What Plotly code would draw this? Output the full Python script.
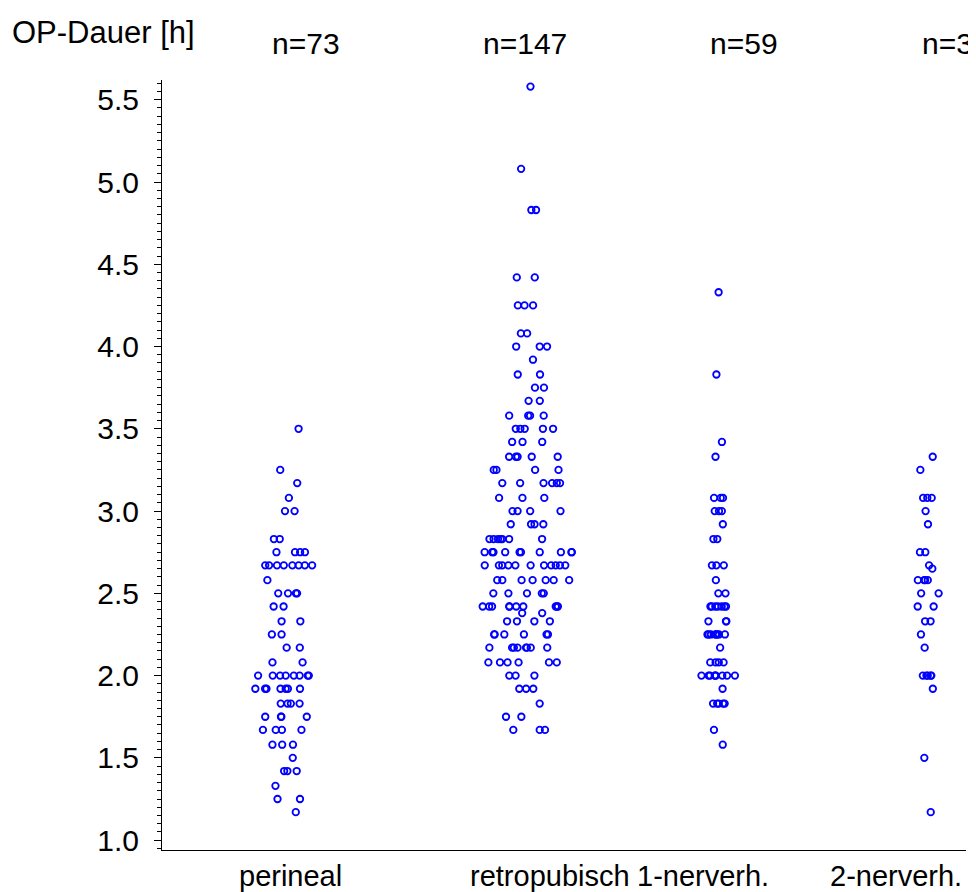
import plotly.graph_objects as go

# ---------------- data (OP-Dauer in hours) ----------------
categories = ["perineal", "retropubisch", "1-nerverh.", "2-nerverh."]

perineal = ([3.5, 3.25, 3.17, 3.08] + [3.0]*2 + [2.83]*2 + [2.75]*4 + [2.67]*8 + [2.58]
            + [2.5]*4 + [2.42]*2 + [2.33]*2 + [2.25]*2 + [2.17]*2 + [2.08]*2 + [2.0]*8
            + [1.92]*7 + [1.83]*4 + [1.75]*4 + [1.67]*4 + [1.58]*3 + [1.5] + [1.42]*3
            + [1.33] + [1.25]*2 + [1.17])

retropubisch = ([5.58, 5.08] + [4.83]*2 + [4.42]*2 + [4.25]*3 + [4.08]*2 + [4.0]*3 + [3.92]
                + [3.83]*2 + [3.75]*2 + [3.67]*2 + [3.58]*4 + [3.5]*5 + [3.42]*3 + [3.33]*5
                + [3.25]*4 + [3.17]*6 + [3.08]*3 + [3.0]*4 + [2.92]*4 + [2.83]*7 + [2.75]*10
                + [2.67]*11 + [2.58]*7 + [2.5]*5 + [2.42]*10 + [2.38]*2 + [2.33]*4 + [2.25]*6
                + [2.17]*8 + [2.08]*6 + [2.0]*3 + [1.92]*3 + [1.83] + [1.75]*2 + [1.67]*3)

nerverh_1 = ([4.33, 3.83, 3.42, 3.33] + [3.08]*3 + [3.0]*3 + [2.92] + [2.83]*2 + [2.67]*3
             + [2.58] + [2.5]*2 + [2.42]*7 + [2.33]*3 + [2.25]*8 + [2.17] + [2.08]*4
             + [2.0]*9 + [1.92] + [1.83]*5 + [1.67] + [1.58])

nerverh_2 = ([3.33, 3.25] + [3.08]*3 + [3.0, 2.92] + [2.75]*2 + [2.65, 2.67] + [2.58]*4
             + [2.5]*2 + [2.42]*2 + [2.33]*2 + [2.25, 2.17] + [2.0]*5 + [1.92, 1.5, 1.17])

series = [perineal, retropubisch, nerverh_1, nerverh_2]

y_ticks = [1.0, 1.5, 2.0, 2.5, 3.0, 3.5, 4.0, 4.5, 5.0, 5.5]

# ---------------- layout helpers ----------------
# (the page body adds an 8 px margin, so everything is laid out 8 px up/left)
W, H = 976, 892
ML, MR, MT, MB = 154, 18, 72, 50
group_pos = [280, 519, 711, 920]      # x centre of each strip (x axis in px units)
group_width = [70, 90, 36, 24]        # jitter spread
label_pos = [282, 542, 695, 888]
n_pos = [298, 517, 736, 912]

FONT = "Liberation Sans, Arial, sans-serif"
BLUE = "#0000ff"

fig = go.Figure()
for vals, pos, wd in zip(series, group_pos, group_width):
    fig.add_trace(go.Box(
        y=vals, x0=pos, width=wd,
        boxpoints="all", jitter=1, pointpos=0,
        fillcolor="rgba(0,0,0,0)", line=dict(width=0, color="rgba(0,0,0,0)"),
        whiskerwidth=0,
        marker=dict(symbol="circle-open", size=6.5, color=BLUE,
                    line=dict(width=1.8, color=BLUE)),
        hoverinfo="skip", showlegend=False,
    ))

annotations = []
for cat, xp in zip(categories, label_pos):
    annotations.append(dict(text=cat, x=xp, xref="x", y=0, yref="paper",
                            yanchor="top", xanchor="center", yshift=-8,
                            showarrow=False, font=dict(size=29, color="black", family=FONT)))
for vals, xp, i in zip(series, n_pos, range(4)):
    annotations.append(dict(text=f"n={len(vals)}", x=xp, xref="x", y=1, yref="paper",
                            yanchor="middle", xanchor="left" if i == 3 else "center",
                            yshift=37, showarrow=False,
                            font=dict(size=30, color="black", family=FONT)))
annotations.append(dict(text="OP-Dauer [h]", x=(2 - ML) / (W - ML - MR), xref="paper",
                        y=1, yref="paper", yanchor="middle", xanchor="left", yshift=48,
                        showarrow=False, font=dict(size=31, color="black", family=FONT)))

fig.update_layout(
    width=W, height=H,
    margin=dict(l=ML, r=MR, t=MT, b=MB, autoexpand=False),
    paper_bgcolor="white", plot_bgcolor="white",
    font=dict(family=FONT, size=30, color="black"),
    boxmode="overlay",
    xaxis=dict(range=[ML, W - MR], showline=True, linecolor="black", linewidth=1,
               showticklabels=False, ticks="", showgrid=False, zeroline=False),
    yaxis=dict(range=[0.94, 5.62], showline=True, linecolor="black", linewidth=1,
               tickvals=y_ticks, ticktext=[f"{v:.1f}" for v in y_ticks],
               ticks="outside", ticklen=7, tickwidth=1, tickcolor="black",
               ticklabelstandoff=9,
               minor=dict(ticks="outside", ticklen=4, dtick=0.05, tick0=1.0,
                          tickcolor="black", tickwidth=1, showgrid=False),
               showgrid=False, zeroline=False,
               tickfont=dict(size=30, family=FONT)),
    annotations=annotations,
)

fig.write_html("out.html")
